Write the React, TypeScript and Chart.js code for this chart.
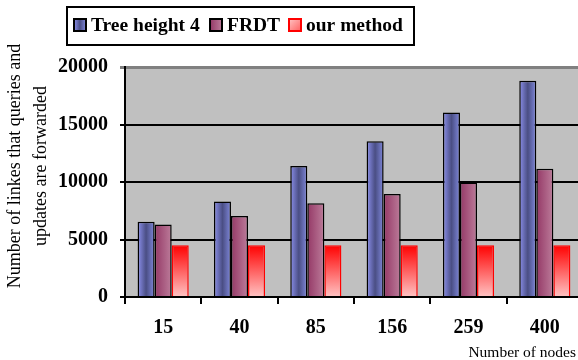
import React, { useEffect, useRef } from "react";
import { Chart, registerables } from "chart.js";

Chart.register(...registerables);

const nodeCounts = ["15", "40", "85", "156", "259", "400"];
const treeHeight4 = [6550, 8300, 11400, 13550, 16050, 18800];
const frdt = [6300, 7050, 8150, 8950, 9950, 11150];
const ourMethod = [4500, 4500, 4500, 4500, 4500, 4500];
const yTicks = [0, 5000, 10000, 15000, 20000];

const seriesNames = ["Tree height 4", "FRDT", "our method"];
const yTitleLines = ["Number of linkes that queries and", "updates are forwarded"];
const xTitle = "Number of nodes";

const CAT_PCT = 0.67;
const SERIF = "'Liberation Serif', 'Times New Roman', serif";

function barBox(chart: any, dsIndex: number, index: number) {
  const x = chart.scales.x;
  const n = nodeCounts.length;
  const cat = (x.right - x.left) / n;
  const group = cat * CAT_PCT;
  const bw = group / 3;
  const center = x.getPixelForValue(index);
  const left = center - group / 2 + dsIndex * bw;
  return { left, right: left + bw };
}

function blueGradient(c: CanvasRenderingContext2D, x0: number, x1: number) {
  const g = c.createLinearGradient(x0, 0, x1, 0);
  g.addColorStop(0, "#8c90ec");
  g.addColorStop(0.5, "#4a4e84");
  g.addColorStop(1, "#8088dc");
  return g;
}
function maroonGradient(c: CanvasRenderingContext2D, x0: number, x1: number) {
  const g = c.createLinearGradient(x0, 0, x1, 0);
  g.addColorStop(0, "#943866");
  g.addColorStop(1, "#bc7c9a");
  return g;
}
function redGradient(c: CanvasRenderingContext2D, y0: number, y1: number) {
  const g = c.createLinearGradient(0, y0, 0, y1);
  g.addColorStop(0, "#ff0000");
  g.addColorStop(1, "#ffc4c4");
  return g;
}

function fillFor(dsIndex: number, fallback: string) {
  return (ctx: any) => {
    const chart = ctx.chart;
    if (ctx.type !== "data" || !chart.chartArea || !chart.scales.x) return fallback;
    const c = chart.ctx as CanvasRenderingContext2D;
    const { left, right } = barBox(chart, dsIndex, ctx.dataIndex);
    if (dsIndex === 0) return blueGradient(c, left, right);
    if (dsIndex === 1) return maroonGradient(c, left, right);
    const y = chart.scales.y;
    const top = y.getPixelForValue(ctx.raw as number);
    const bottom = y.getPixelForValue(0);
    return redGradient(c, top, bottom);
  };
}

const plotBackground = {
  id: "plotBackground",
  beforeDraw(chart: any) {
    const { ctx, chartArea } = chart;
    ctx.save();
    ctx.fillStyle = "#c0c0c0";
    ctx.fillRect(chartArea.left, chartArea.top, chartArea.right - chartArea.left, chartArea.bottom - chartArea.top);
    ctx.restore();
  },
};

const titlesAndLegend = {
  id: "titlesAndLegend",
  afterDraw(chart: any) {
    const c = chart.ctx as CanvasRenderingContext2D;
    c.save();

    // y axis title, two rotated lines
    c.fillStyle = "#000";
    c.font = `18px ${SERIF}`;
    c.textAlign = "center";
    c.textBaseline = "middle";
    const lineX = [15, 41];
    yTitleLines.forEach((t, i) => {
      c.save();
      c.translate(lineX[i], 166);
      c.rotate(-Math.PI / 2);
      c.fillText(t, 0, 0);
      c.restore();
    });

    // x axis title
    c.font = `15.5px ${SERIF}`;
    c.textAlign = "right";
    c.fillText(xTitle, 576, 353);

    // legend
    c.fillStyle = "#fff";
    c.fillRect(67, 7, 347, 38);
    c.lineWidth = 2;
    c.strokeStyle = "#000";
    c.strokeRect(67, 7, 347, 38);

    const swatchX = [74, 210, 289];
    c.font = `bold 19.5px ${SERIF}`;
    c.textAlign = "left";
    c.textBaseline = "middle";
    seriesNames.forEach((name, i) => {
      const sx = swatchX[i];
      const sy = 19;
      const s = 12;
      let fill: any;
      if (i === 0) fill = blueGradient(c, sx, sx + s);
      else if (i === 1) fill = maroonGradient(c, sx, sx + s);
      else {
        const g = c.createLinearGradient(sx, sy, sx + s, sy + s);
        g.addColorStop(0, "#ffc4c4");
        g.addColorStop(1, "#ff6060");
        fill = g;
      }
      c.fillStyle = fill;
      c.fillRect(sx, sy, s, s);
      c.lineWidth = 2;
      c.strokeStyle = i === 2 ? "#ff0000" : "#000";
      c.strokeRect(sx, sy, s, s);
      c.fillStyle = "#000";
      c.fillText(name, sx + s + 5, 26);
    });

    c.restore();
  },
};

export default function App() {
  const canvasRef = useRef<HTMLCanvasElement | null>(null);

  useEffect(() => {
    if (!canvasRef.current) return;
    const chart = new Chart(canvasRef.current, {
      type: "bar",
      data: {
        labels: nodeCounts,
        datasets: [
          {
            label: seriesNames[0],
            data: treeHeight4,
            backgroundColor: fillFor(0, "#6a6eb4"),
            borderColor: "#000",
            borderWidth: 1.5,
          },
          {
            label: seriesNames[1],
            data: frdt,
            backgroundColor: fillFor(1, "#a85880"),
            borderColor: "#000",
            borderWidth: 1.5,
          },
          {
            label: seriesNames[2],
            data: ourMethod,
            backgroundColor: fillFor(2, "#ff8080"),
            borderColor: "#ff0000",
            borderWidth: 1.5,
          },
        ],
      },
      options: {
        responsive: false,
        animation: false,
        devicePixelRatio: 1,
        layout: { padding: { top: 67, right: 17, left: 0, bottom: 0 } },
        datasets: { bar: { barPercentage: 1, categoryPercentage: CAT_PCT } },
        plugins: {
          legend: { display: false },
          tooltip: { enabled: false },
        },
        scales: {
          x: {
            afterFit: (s: any) => {
              s.height = 63;
            },
            grid: {
              drawOnChartArea: false,
              drawTicks: true,
              tickLength: 7,
              color: "#000",
              lineWidth: 2,
            },
            border: { color: "#000", width: 2 },
            ticks: {
              color: "#000",
              padding: 12,
              font: { family: SERIF, size: 20, weight: "bold" },
            },
          },
          y: {
            min: 0,
            max: 20000,
            afterFit: (s: any) => {
              s.width = 125;
            },
            afterBuildTicks: (s: any) => {
              s.ticks = yTicks.map((v) => ({ value: v }));
            },
            grid: {
              color: (ctx: any) => (ctx.tick && ctx.tick.value === 20000 ? "#808080" : "#000"),
              lineWidth: (ctx: any) => (ctx.tick && ctx.tick.value === 20000 ? 3 : 2),
              tickLength: 5,
            },
            border: { color: "#000", width: 2 },
            ticks: {
              color: "#000",
              padding: 12,
              callback: (v: any) => String(v),
              font: { family: SERIF, size: 20, weight: "bold" },
            },
          },
        },
      },
      plugins: [plotBackground, titlesAndLegend],
    });
    return () => chart.destroy();
  }, []);

  return (
    <div
      style={{
        position: "fixed",
        left: 0,
        top: 0,
        width: 578,
        height: 360,
        overflow: "hidden",
        background: "#fff",
      }}
    >
      <canvas ref={canvasRef} width={600} height={360} style={{ display: "block" }} />
    </div>
  );
}
